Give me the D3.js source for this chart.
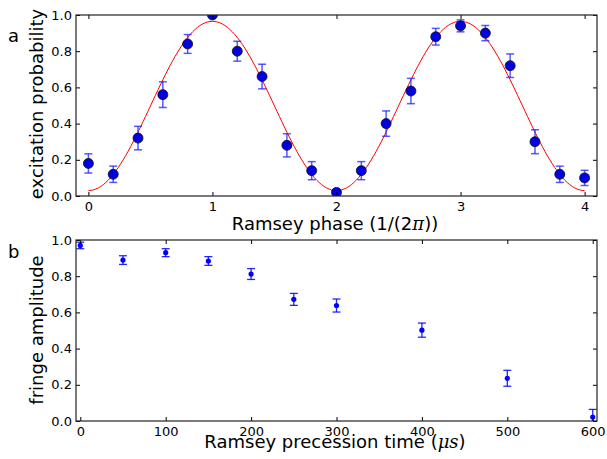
<!DOCTYPE html>
<html>
<head>
<meta charset="utf-8">
<script src="https://cdn.jsdelivr.net/npm/d3@7"></script>
<style>
  body { margin: 0; background: #fff; }
  svg { font-family: "DejaVu Sans", sans-serif; }
</style>
</head>
<body>
<svg id="mysvg" width="607" height="459"></svg>
<script>
// panel a: Ramsey fringe
var phase = [0, 0.2, 0.4, 0.6, 0.8, 1.0, 1.2, 1.4, 1.6, 1.8, 2.0, 2.2, 2.4, 2.6, 2.8, 3.0, 3.2, 3.4, 3.6, 3.8, 4.0];
var excitation = [0.18, 0.12, 0.32, 0.56, 0.84, 1.0, 0.80, 0.66, 0.28, 0.14, 0.02, 0.14, 0.40, 0.58, 0.88, 0.94, 0.90, 0.72, 0.30, 0.12, 0.10];
var excitationErr = [0.053, 0.045, 0.065, 0.071, 0.052, 0.012, 0.055, 0.068, 0.064, 0.05, 0.01, 0.05, 0.07, 0.07, 0.046, 0.033, 0.042, 0.065, 0.066, 0.045, 0.042];
// fitted fringe: offset - amplitude * cos(pi*phase)  (period of 2 in these units)
var fitOffset = 0.4975, fitAmplitude = 0.4675;

// panel b: fringe amplitude vs precession time
var precTime = [0, 50, 100, 150, 200, 250, 300, 400, 500, 600];
var fringeAmp = [0.97, 0.889, 0.93, 0.884, 0.812, 0.672, 0.638, 0.502, 0.236, 0.022];
var fringeErr = [0.018, 0.024, 0.022, 0.024, 0.03, 0.033, 0.036, 0.039, 0.044, 0.042];

var yTicks = [0, 0.2, 0.4, 0.6, 0.8, 1.0];
var phaseTicks = [0, 1, 2, 3, 4];
var timeTicks = [0, 100, 200, 300, 400, 500, 600];

var svg = d3.select("#mysvg");
var left = 76, right = 597;

function frame(g, x, y, xt, yt, fmtX) {
    var h = y.range()[0], w = x.range()[1];
    // inward ticks on all four sides
    g.append("g").attr("transform", "translate(0," + h + ")")
        .call(d3.axisBottom(x).tickValues(xt).tickSizeInner(-4).tickSizeOuter(0).tickPadding(6).tickFormat(fmtX))
        .call(function(a){ a.select(".domain").remove(); });
    g.append("g")
        .call(d3.axisTop(x).tickValues(xt).tickSizeInner(-4).tickSizeOuter(0).tickFormat(""))
        .call(function(a){ a.select(".domain").remove(); });
    g.append("g")
        .call(d3.axisLeft(y).tickValues(yt).tickSizeInner(-4).tickSizeOuter(0).tickPadding(4).tickFormat(d3.format(".1f")))
        .call(function(a){ a.select(".domain").remove(); });
    g.append("g").attr("transform", "translate(" + w + ",0)")
        .call(d3.axisRight(y).tickValues(yt).tickSizeInner(-4).tickSizeOuter(0).tickFormat(""))
        .call(function(a){ a.select(".domain").remove(); });
    g.selectAll(".tick text").attr("font-size", 13).attr("fill", "#000").attr("font-family", "DejaVu Sans");
    g.selectAll(".tick line").attr("stroke", "#000");
    g.append("rect").attr("width", w).attr("height", h)
        .attr("fill", "none").attr("stroke", "#222").attr("stroke-width", 1.2);
}

// ---- panel a ----
var ga = svg.append("g").attr("transform", "translate(" + left + ",15)");
var xa = d3.scaleLinear().domain([-0.1, 4.1]).range([0, right - left]);
var ya = d3.scaleLinear().domain([0, 1]).range([181, 0]);

ga.append("defs").append("clipPath").attr("id", "clipa")
    .append("rect").attr("width", right - left).attr("height", 181);

var fitX = d3.range(0, 4.0001, 0.02);
ga.append("path")
    .datum(fitX)
    .attr("clip-path", "url(#clipa)")
    .attr("fill", "none").attr("stroke", "#ff0000").attr("stroke-width", 1)
    .attr("d", d3.line()
        .x(function(d){ return xa(d); })
        .y(function(d){ return ya(fitOffset - fitAmplitude * Math.cos(Math.PI * d)); }));

var ebA = ga.append("g").attr("clip-path", "url(#clipa)")
    .attr("stroke", "#2222ff").attr("stroke-opacity", 0.75).attr("stroke-width", 1.5);
phase.forEach(function(p, i){
    var y0 = ya(excitation[i] - excitationErr[i]), y1 = ya(excitation[i] + excitationErr[i]);
    ebA.append("line").attr("x1", xa(p)).attr("x2", xa(p)).attr("y1", y0).attr("y2", y1);
    ebA.append("line").attr("x1", xa(p) - 4).attr("x2", xa(p) + 4).attr("y1", y0).attr("y2", y0);
    ebA.append("line").attr("x1", xa(p) - 4).attr("x2", xa(p) + 4).attr("y1", y1).attr("y2", y1);
});
ga.append("g").attr("clip-path", "url(#clipa)")
    .selectAll("circle").data(phase).enter().append("circle")
    .attr("cx", function(d){ return xa(d); })
    .attr("cy", function(d, i){ return ya(excitation[i]); })
    .attr("r", 5)
    .attr("fill", "#0000e0").attr("stroke", "#111").attr("stroke-width", 0.8);

frame(ga, xa, ya, phaseTicks, yTicks, d3.format("d"));

// ---- panel b ----
var gb = svg.append("g").attr("transform", "translate(" + left + ",240)");
var xb = d3.scaleLinear().domain([-5, 605]).range([0, right - left]);
var yb = d3.scaleLinear().domain([0, 1]).range([181, 0]);

gb.append("defs").append("clipPath").attr("id", "clipb")
    .append("rect").attr("width", right - left).attr("height", 181);

var ebB = gb.append("g").attr("clip-path", "url(#clipb)")
    .attr("stroke", "#0000ff").attr("stroke-opacity", 0.85).attr("stroke-width", 1.3);
precTime.forEach(function(t, i){
    var y0 = yb(fringeAmp[i] - fringeErr[i]), y1 = yb(fringeAmp[i] + fringeErr[i]);
    ebB.append("line").attr("x1", xb(t)).attr("x2", xb(t)).attr("y1", y0).attr("y2", y1);
    ebB.append("line").attr("x1", xb(t) - 4).attr("x2", xb(t) + 4).attr("y1", y0).attr("y2", y0);
    ebB.append("line").attr("x1", xb(t) - 4).attr("x2", xb(t) + 4).attr("y1", y1).attr("y2", y1);
});
gb.append("g").attr("clip-path", "url(#clipb)")
    .selectAll("circle").data(precTime).enter().append("circle")
    .attr("cx", function(d){ return xb(d); })
    .attr("cy", function(d, i){ return yb(fringeAmp[i]); })
    .attr("r", 2.6)
    .attr("fill", "#0000ff");

frame(gb, xb, yb, timeTicks, yTicks, d3.format("d"));

// labels
svg.append("text").attr("x", 8).attr("y", 42).attr("font-size", 18).text("a");
svg.append("text").attr("x", 8).attr("y", 258).attr("font-size", 18).text("b");

svg.append("text").attr("transform", "translate(43,104) rotate(-90)")
    .attr("text-anchor", "middle").attr("font-size", 18).text("excitation probability");
svg.append("text").attr("transform", "translate(43,330) rotate(-90)")
    .attr("text-anchor", "middle").attr("font-size", 18).text("fringe amplitude");

var pl = svg.append("text").attr("x", 335).attr("y", 230)
    .attr("text-anchor", "middle").attr("font-size", 18);
pl.append("tspan").text("Ramsey phase (1/(2");
pl.append("tspan").attr("font-style", "italic").attr("font-family", "DejaVu Serif").text("\u03c0");
pl.append("tspan").text("))");

var xl = svg.append("text").attr("x", 335).attr("y", 448)
    .attr("text-anchor", "middle").attr("font-size", 18);
xl.append("tspan").text("Ramsey precession time (");
xl.append("tspan").attr("font-style", "italic").attr("font-family", "DejaVu Serif").text("\u03bcs");
xl.append("tspan").text(")");
</script>
</body>
</html>
